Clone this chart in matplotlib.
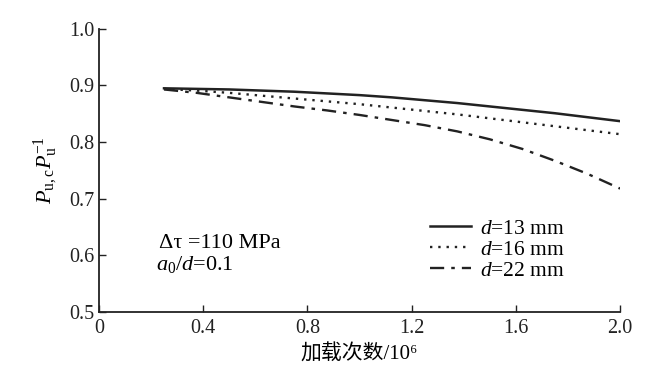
import matplotlib
matplotlib.use("Agg")
import matplotlib.pyplot as plt

plt.rcParams['font.family'] = ['Liberation Serif', 'Noto Sans CJK SC']
plt.rcParams['mathtext.fontset'] = 'custom'
plt.rcParams['mathtext.rm'] = 'Liberation Serif'
plt.rcParams['mathtext.it'] = 'Liberation Serif:italic'

# loading cycles (10^6) and strength ratio for each bolt diameter
cycles = [0.25, 0.375, 0.5, 0.625, 0.75, 0.875, 1.0, 1.125, 1.25, 1.375, 1.5, 1.625, 1.75, 1.875, 2.0]
d13 = [0.895, 0.894, 0.893, 0.891, 0.889, 0.886, 0.883, 0.879, 0.874, 0.869, 0.863, 0.857, 0.851, 0.844, 0.837]
d16 = [0.894, 0.891, 0.887, 0.882, 0.877, 0.872, 0.867, 0.861, 0.855, 0.849, 0.842, 0.835, 0.828, 0.821, 0.814]
d22 = [0.893, 0.887, 0.879, 0.871, 0.863, 0.856, 0.848, 0.839, 0.830, 0.819, 0.805, 0.788, 0.767, 0.744, 0.718]

xticks = [0, 0.4, 0.8, 1.2, 1.6, 2.0]
xticklabels = ['0', '0.4', '0.8', '1.2', '1.6', '2.0']
yticks = [0.5, 0.6, 0.7, 0.8, 0.9, 1.0]

fig = plt.figure(figsize=(6.59, 3.65), dpi=100)
ax = fig.add_axes([0.150, 0.145, 0.791, 0.776])

ax.plot(cycles, d13, color='#222222', lw=1.8, ls='-', label='$d$=13 mm')
ax.plot(cycles, d16, color='#222222', lw=1.7, ls=(0, (1, 2.5)), label='$d$=16 mm')
ax.plot(cycles, d22, color='#222222', lw=1.7, ls=(0, (6, 3, 1.5, 3)), label='$d$=22 mm')

ax.set_xlim(0, 2.0)
ax.set_ylim(0.5, 1.0)
ax.set_xticks(xticks)
ax.set_xticklabels(xticklabels)
ax.set_yticks(yticks)
ax.set_yticklabels(['%.1f' % v for v in yticks])
ax.tick_params(direction='in', length=5, width=1, labelsize=14.5, colors='#222222', pad=3)
ax.tick_params(axis='x', pad=5)
ax.spines['top'].set_visible(False)
ax.spines['right'].set_visible(False)
for s in ['left', 'bottom']:
    ax.spines[s].set_linewidth(1.3)
    ax.spines[s].set_color('#222222')

# plain text (no mathtext) so the CJK fallback works
ax.set_xlabel('加载次数/10⁶', fontsize=15, labelpad=5)
ax.set_ylabel('$P_{\\mathrm{u,c}}P_{\\mathrm{u}}^{-1}$', fontsize=16, labelpad=7)

ax.text(0.115, 0.225, 'Δτ =110 MPa', transform=ax.transAxes, fontsize=16)
ax.text(0.110, 0.150, '$a_0/d$=0.1', transform=ax.transAxes, fontsize=16)

ax.legend(loc='upper left', bbox_to_anchor=(0.636, 0.33), frameon=False, fontsize=15.5,
          handlelength=1.9, handletextpad=0.4, labelspacing=0.05,
          borderpad=0, borderaxespad=0)

fig.savefig('out.png', dpi=100)
